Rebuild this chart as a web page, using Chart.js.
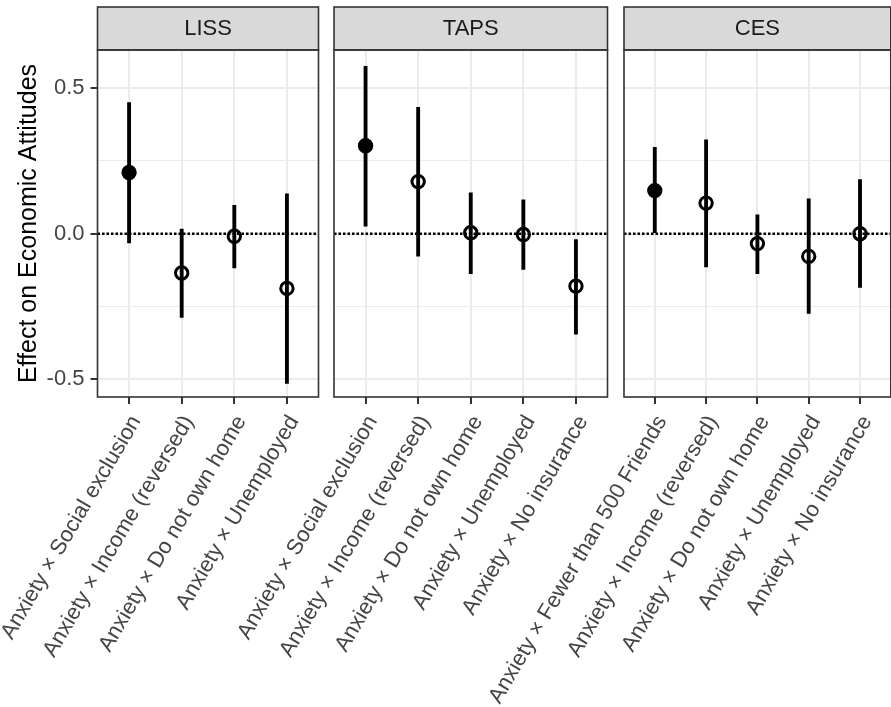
<!DOCTYPE html>
<html>
<head>
<meta charset="utf-8">
<script src="https://cdn.jsdelivr.net/npm/chart.js@4.4.0/dist/chart.umd.min.js"></script>
<style>
  html, body { margin: 0; padding: 0; background: #fff; overflow: hidden; }
  #wrap { position: relative; width: 900px; height: 707px; }
  #wrap canvas { position: absolute; left: 0; top: 0; }
</style>
</head>
<body>
<div id="wrap">
  <canvas id="liss" width="900" height="707"></canvas>
  <canvas id="taps" width="900" height="707"></canvas>
  <canvas id="ces" width="900" height="707"></canvas>
</div>
<script>
// panel titles
const panelNames = ["LISS", "TAPS", "CES"];

// LISS
const lissLabels = [
  "Anxiety × Social exclusion",
  "Anxiety × Income (reversed)",
  "Anxiety × Do not own home",
  "Anxiety × Unemployed"
];
const lissEst = [0.21, -0.135, -0.009, -0.188];
const lissLow = [-0.032, -0.288, -0.118, -0.514];
const lissHigh = [0.45, 0.016, 0.097, 0.137];
const lissSig = [true, false, false, false];

// TAPS
const tapsLabels = [
  "Anxiety × Social exclusion",
  "Anxiety × Income (reversed)",
  "Anxiety × Do not own home",
  "Anxiety × Unemployed",
  "Anxiety × No insurance"
];
const tapsEst = [0.302, 0.179, 0.003, -0.003, -0.18];
const tapsLow = [0.026, -0.077, -0.137, -0.123, -0.345];
const tapsHigh = [0.575, 0.434, 0.14, 0.116, -0.02];
const tapsSig = [true, false, false, false, false];

// CES
const cesLabels = [
  "Anxiety × Fewer than 500 Friends",
  "Anxiety × Income (reversed)",
  "Anxiety × Do not own home",
  "Anxiety × Unemployed",
  "Anxiety × No insurance"
];
const cesEst = [0.148, 0.105, -0.034, -0.078, 0.0];
const cesLow = [0.0, -0.114, -0.137, -0.274, -0.185];
const cesHigh = [0.297, 0.322, 0.065, 0.12, 0.186];
const cesSig = [true, false, false, false, false];

// y axis
const yMajorTicks = [-0.5, 0, 0.5];
const yMinorTicks = [-0.25, 0.25];
const yMin = -0.561;
const yMax = 0.631;

const FONT = "'Liberation Sans', Arial, Helvetica, sans-serif";
Chart.defaults.font.family = FONT;

// zero line, panel border and strip
const panelDecor = {
  id: "panelDecor",
  beforeDatasetsDraw(chart) {
    const { ctx, chartArea: a, scales } = chart;
    const y0 = scales.y.getPixelForValue(0);
    ctx.save();
    ctx.strokeStyle = "#000";
    ctx.lineWidth = 2.5;
    ctx.setLineDash([2.5, 2]);
    ctx.beginPath();
    ctx.moveTo(a.left, y0);
    ctx.lineTo(a.right, y0);
    ctx.stroke();
    ctx.restore();
  },
  afterDraw(chart, args, opts) {
    const { ctx, chartArea: a } = chart;
    const w = a.right - a.left;
    ctx.save();
    ctx.fillStyle = "#D9D9D9";
    ctx.fillRect(a.left, a.top - 43, w, 43);
    ctx.strokeStyle = "#333";
    ctx.lineWidth = 1.6;
    ctx.strokeRect(a.left, a.top - 43, w, 43);
    ctx.strokeRect(a.left, a.top, w, a.bottom - a.top);
    ctx.fillStyle = "#1A1A1A";
    ctx.font = "22px " + FONT;
    ctx.textAlign = "center";
    ctx.textBaseline = "middle";
    ctx.fillText(opts.title, (a.left + a.right) / 2, a.top - 21);
    ctx.restore();
  }
};

function makePanel(id, name, labels, est, low, high, sig, left, right, first) {
  const ctx = document.getElementById(id);
  const isMajor = (v) => yMajorTicks.includes(v);
  return new Chart(ctx, {
    type: "scatter",
    data: {
      datasets: [
        {
          type: "scatter",
          data: labels.map((_, i) => ({ x: i, y: est[i] })),
          pointStyle: "circle",
          pointRadius: 6.2,
          pointBorderWidth: 3,
          pointBorderColor: "#000",
          pointBackgroundColor: sig.map((s) => (s ? "#000" : "rgba(0,0,0,0)")),
          order: 0,
        },
        {
          type: "bar",
          data: labels.map((_, i) => ({ x: i, y: [low[i], high[i]] })),
          backgroundColor: "#000",
          borderWidth: 0,
          barThickness: 3.2,
          order: 1,
        },
      ],
    },
    options: {
      responsive: false,
      animation: false,
      devicePixelRatio: 1,
      events: [],
      layout: { padding: { left: left, right: 900 - right, top: 50, bottom: 0 } },
      plugins: {
        legend: { display: false },
        tooltip: { enabled: false },
        panelDecor: { title: name },
      },
      scales: {
        x: {
          type: "linear",
          offset: false,
          min: -0.6,
          max: labels.length - 0.4,
          afterBuildTicks: (s) => { s.ticks = labels.map((_, i) => ({ value: i })); },
          afterFit: (s) => { s.height = 310; s.paddingLeft = 0; s.paddingRight = 0; },
          border: { display: false },
          grid: { offset: false, color: "#EBEBEB", lineWidth: 2, tickColor: "#333", tickLength: 7, tickWidth: 2 },
          ticks: {
            autoSkip: false,
            minRotation: 59.5,
            maxRotation: 59.5,
            padding: 7,
            labelOffset: 7,
            color: "#444",
            font: { size: 22 },
            callback: (v) => labels[v],
          },
        },
        y: {
          type: "linear",
          min: yMin,
          max: yMax,
          afterBuildTicks: (s) => {
            s.ticks = yMajorTicks.concat(yMinorTicks).sort((a, b) => a - b).map((v) => ({ value: v }));
          },
          afterFit: (s) => { s.width = first ? 97.5 : 0; },
          border: { display: false },
          grid: {
            color: "#EBEBEB",
            lineWidth: (c) => (isMajor(c.tick.value) ? 2 : 1),
            drawTicks: first,
            tickLength: 7,
            tickWidth: 2,
            tickColor: (c) => (isMajor(c.tick.value) ? "#333" : "rgba(0,0,0,0)"),
          },
          ticks: {
            display: first,
            padding: 6,
            color: "#444",
            font: { size: 22 },
            callback: (v) => (isMajor(v) ? v.toFixed(1) : ""),
          },
          title: {
            display: first,
            text: "Effect on Economic Attitudes",
            color: "#000",
            font: { size: 25 },
            padding: { top: 14, bottom: 0 },
          },
        },
      },
    },
    plugins: [panelDecor],
  });
}

makePanel("liss", panelNames[0], lissLabels, lissEst, lissLow, lissHigh, lissSig, 0, 318.5, true);
makePanel("taps", panelNames[1], tapsLabels, tapsEst, tapsLow, tapsHigh, tapsSig, 334, 607.5, false);
makePanel("ces", panelNames[2], cesLabels, cesEst, cesLow, cesHigh, cesSig, 624, 897, false);
</script>
</body>
</html>
